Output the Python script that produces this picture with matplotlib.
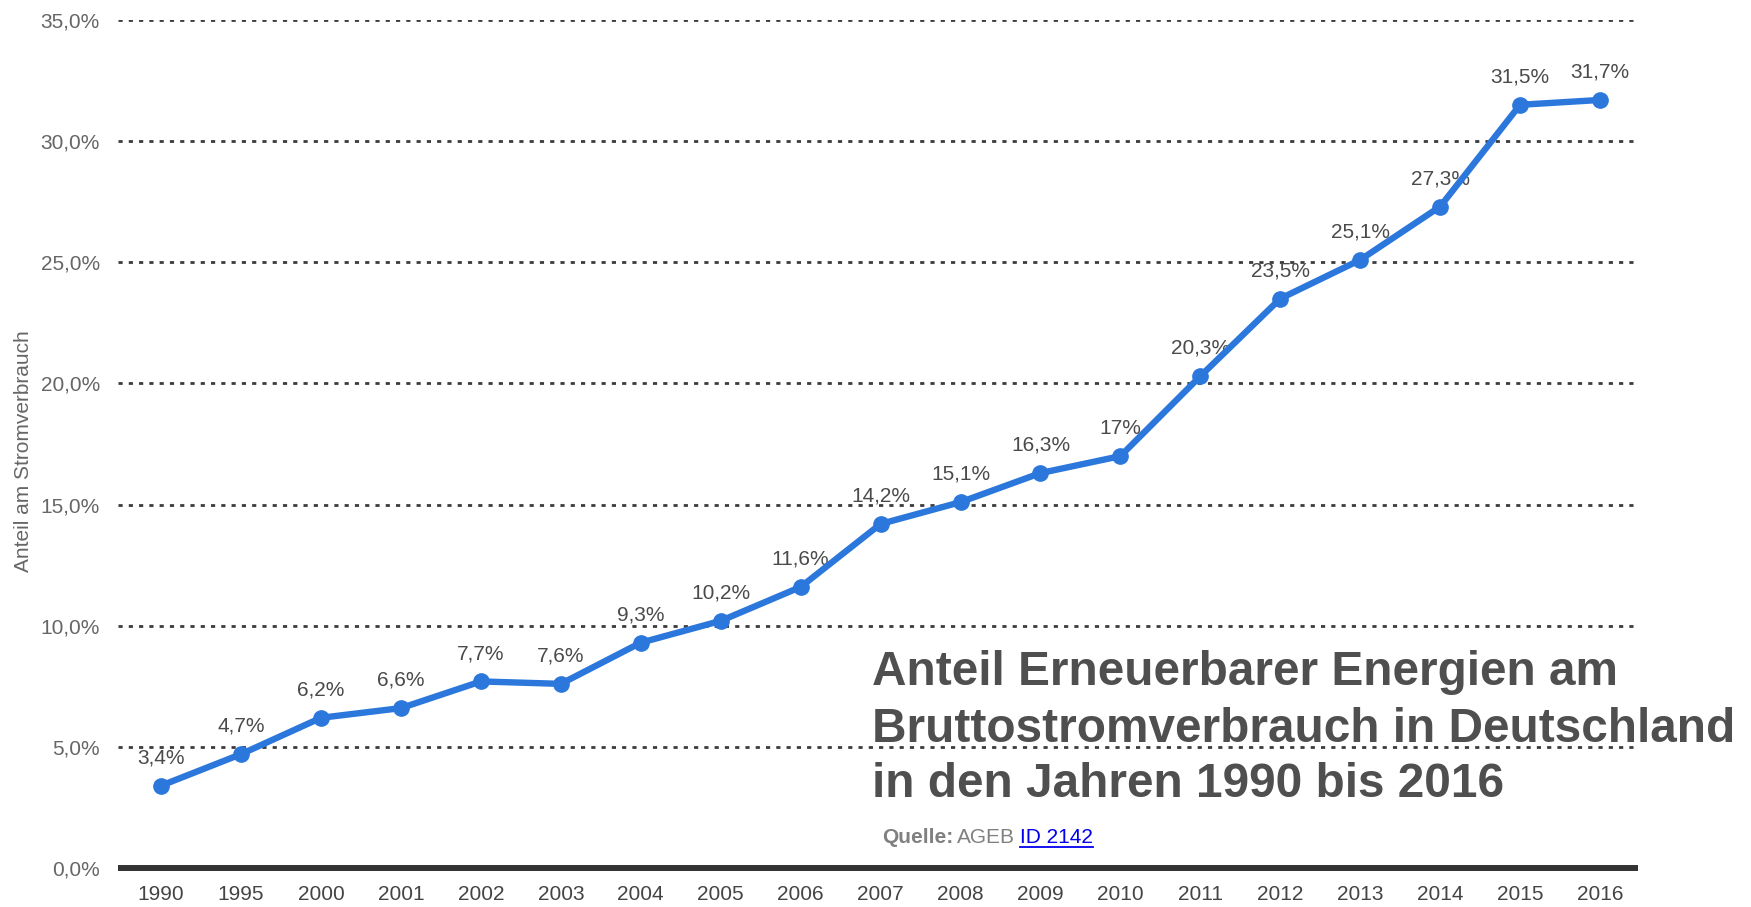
import matplotlib
matplotlib.use("Agg")
import matplotlib.pyplot as plt
from matplotlib.lines import Line2D

plt.rcParams['font.family'] = ['Liberation Sans', 'DejaVu Sans']

years = ["1990", "1995", "2000", "2001", "2002", "2003", "2004", "2005", "2006",
         "2007", "2008", "2009", "2010", "2011", "2012", "2013", "2014", "2015", "2016"]
shares = [3.4, 4.7, 6.2, 6.6, 7.7, 7.6, 9.3, 10.2, 11.6,
          14.2, 15.1, 16.3, 17.0, 20.3, 23.5, 25.1, 27.3, 31.5, 31.7]
y_ticks = [0, 5, 10, 15, 20, 25, 30, 35]
y_label = "Anteil am Stromverbrauch"
title_lines = ["Anteil Erneuerbarer Energien am",
               "Bruttostromverbrauch in Deutschland",
               "in den Jahren 1990 bis 2016"]
source_label = "Quelle:"
source_name = "AGEB"
source_id = "ID 2142"

W, H = 1751, 907
fig = plt.figure(figsize=(W / 100, H / 100), dpi=100)
L, R, T, B = 118, 1638, 20, 868
ax = fig.add_axes([L / W, (H - B) / H, (R - L) / W, (B - T) / H])

x = list(range(len(years)))
ax.set_xlim(-0.54, len(years) - 1 + 0.475)
ax.set_ylim(0, 35)

for v in y_ticks[1:]:
    ax.axhline(v, color='#3c3c3c', lw=2.0, linestyle=(0, (1.5, 2.2)), zorder=1)
ax.axhline(0, color='#333333', lw=4.3, zorder=2, solid_capstyle='butt', clip_on=False)

for xi, v in zip(x, shares):
    lab = f"{v:g}".replace('.', ',') + '%'
    ax.annotate(lab, (xi, v), xytext=(0, 20), textcoords='offset points',
                ha='center', va='center', fontsize=15, color='#4a4a4a', zorder=3)

ax.plot(x, shares, color='#2b77dc', lw=4.6, marker='o', markersize=11,
        zorder=4, solid_joinstyle='round')

ax.set_xticks(x)
ax.set_xticklabels(years, fontsize=15, color='#444444')
ax.set_yticks(y_ticks)
ax.set_yticklabels([f"{t},0%" for t in y_ticks], fontsize=15, color='#666666')
ax.tick_params(axis='x', length=0, pad=12)
ax.tick_params(axis='y', length=0, pad=13)
for s in ax.spines.values():
    s.set_visible(False)

fig.text(24 / W, (H - 451) / H, y_label, rotation=90, ha='center', va='center',
         fontsize=15, color='#666666')

baselines = [685, 742, 797]
for line, b in zip(title_lines, baselines):
    fig.text(872 / W, (H - b) / H, line, ha='left', va='baseline', fontsize=34.4,
             fontweight='bold', color='#4f4f4f')

t1 = fig.text(882 / W, (H - 843) / H, source_label, ha='left', va='baseline',
              fontsize=15, fontweight='bold', color='#808080')
fig.canvas.draw()
r = fig.canvas.get_renderer()
bb1 = t1.get_window_extent(r)
t2 = fig.text((bb1.x1 + 4) / W, (H - 843) / H, source_name, ha='left', va='baseline',
              fontsize=15, color='#808080')
bb2 = t2.get_window_extent(r)
t3 = fig.text((bb2.x1 + 5) / W, (H - 843) / H, source_id, ha='left', va='baseline',
              fontsize=15, color='#0000ee')
bb3 = t3.get_window_extent(r)
fig.add_artist(Line2D([bb3.x0 / W, bb3.x1 / W], [(H - 847) / H, (H - 847) / H],
                      color='#0000ee', lw=1.3, transform=fig.transFigure))

fig.savefig("out.png", dpi=100)
